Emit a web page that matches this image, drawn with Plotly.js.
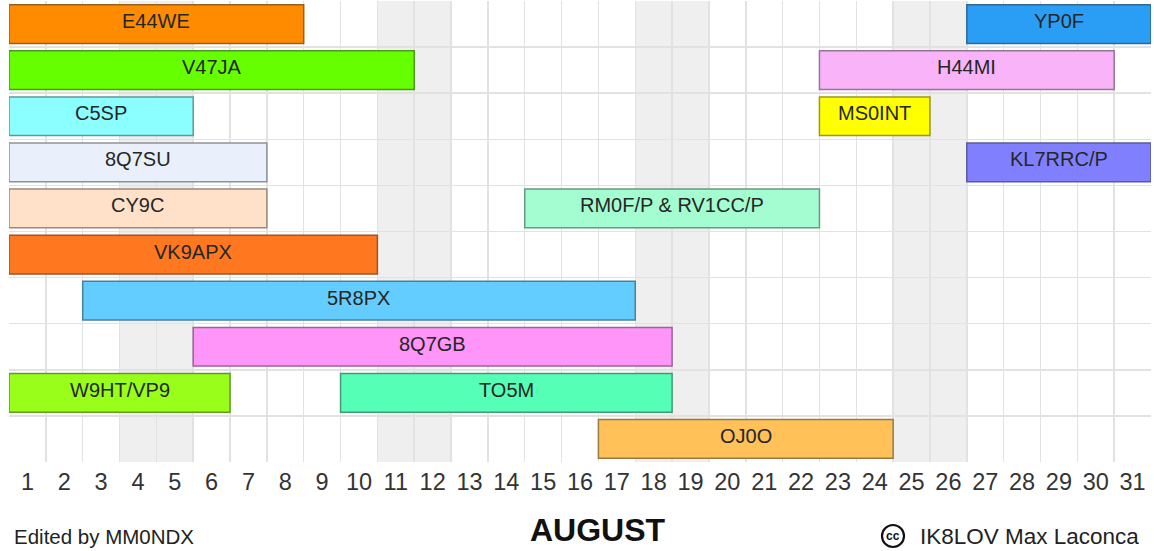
<!DOCTYPE html>
<html>
<head>
<meta charset="utf-8">
<script src="https://cdn.plot.ly/plotly-3.0.1.min.js"></script>
<style>
html,body{margin:0;padding:0;background:#fff;}
#chart{width:1154px;height:551px;}
</style>
</head>
<body>
<div id="chart"></div>
<script>
// ---- data ----
const callsigns = ["E44WE","YP0F","V47JA","H44MI","C5SP","MS0INT","8Q7SU","KL7RRC/P","CY9C","RM0F/P & RV1CC/P","VK9APX","5R8PX","8Q7GB","W9HT/VP9","TO5M","OJ0O"];
const rows      = [0,0,1,1,2,2,3,3,4,4,5,6,7,8,8,9];
const startDays = [1,27,1,23,1,23,1,27,1,15,1,3,6,1,10,17];
const endDays   = [8,31,11,30,5,25,7,31,7,22,10,17,18,6,18,24];
const barColors = ["#FF8C00","#2A9EF5","#66FF00","#F9B4F9","#8BFFFF","#FFFF00","#E9F0FC","#8080FF","#FFE0C9","#A3FDD0","#FF7820","#64CDFF","#FF94F9","#99FF1A","#55FFB5","#FFC158"];
const days = Array.from({length:31},(_,i)=>i+1);
const dayLabels = days.map(String);
const weekendDays = [4,5,11,12,18,19,25,26];
const monthLabel = "AUGUST";
const editorNote = "Edited by MM0NDX";
const authorNote = "IK8LOV Max Laconca";
const nRows = 10;

// ---- helpers ----
function mix(hex, other, t){
  const a=[1,3,5].map(i=>parseInt(hex.substr(i,2),16));
  const b=[1,3,5].map(i=>parseInt(other.substr(i,2),16));
  return 'rgb('+a.map((v,i)=>Math.round(v*(1-t)+b[i]*t)).join(',')+')';
}
const FONT = '"Liberation Sans", Arial, sans-serif';

const trace = {
  type:'bar',
  orientation:'h',
  y: rows,
  base: startDays.map(s=>s-0.5),
  x: startDays.map((s,i)=>endDays[i]-s+1),
  width: rows.map(()=>0.84),
  marker:{color:barColors,line:{color:barColors.map(c=>mix(c,'#333333',0.5)),width:1.5}},
  hoverinfo:'none',
  showlegend:false
};

const shapes = weekendDays.map(d=>({
  type:'rect',xref:'x',yref:'paper',x0:d-0.5,x1:d+0.5,y0:0,y1:1,
  fillcolor:'#efefef',line:{width:0},layer:'below'
}));

// plot area pixel geometry for footer placement
const L=9, R=3, T=1, B=89, W=1154, H=551;
const pw=W-L-R, ph=H-T-B;
const px=x=>(x-L)/pw, py=y=>(H-B-y)/ph;

// cc icon circle
const cx=893, cy=536, cr=11;
shapes.push({type:'circle',xref:'paper',yref:'paper',
  x0:px(cx-cr),x1:px(cx+cr),y0:py(cy+cr),y1:py(cy-cr),
  line:{color:'#111',width:2.2},fillcolor:'rgba(0,0,0,0)',layer:'above'});

// bar labels
const annotations = callsigns.map((c,i)=>({
  xref:'x',yref:'y',x:(startDays[i]+endDays[i])/2,y:rows[i],
  xanchor:'center',yanchor:'middle',yshift:3,showarrow:false,
  text:c,font:{family:FONT,size:20,color:'#262626'}
}));

annotations.push(
  {xref:'paper',yref:'paper',x:px(12),y:py(536),xanchor:'left',yanchor:'middle',showarrow:false,
   text:editorNote,font:{family:FONT,size:20.5,color:'#222'}},
  {xref:'paper',yref:'paper',x:px(598),y:py(530),xanchor:'center',yanchor:'middle',showarrow:false,
   text:'<b>'+monthLabel+'</b>',font:{family:FONT,size:32,color:'#111'}},
  {xref:'paper',yref:'paper',x:px(cx),y:py(cy),xanchor:'center',yanchor:'middle',showarrow:false,
   text:'<b>cc</b>',font:{family:FONT,size:12,color:'#111'}},
  {xref:'paper',yref:'paper',x:px(918),y:py(536),xanchor:'left',yanchor:'middle',showarrow:false,
   text:authorNote,font:{family:FONT,size:22.5,color:'#222'}}
);

const layout = {
  width:W,height:H,
  margin:{l:L,r:R,t:T,b:B,pad:0},
  paper_bgcolor:'#fff',plot_bgcolor:'#fff',
  font:{family:FONT},
  bargap:0,
  xaxis:{range:[0.5,31.5],tickmode:'array',tickvals:days,ticktext:dayLabels,
    showgrid:false,zeroline:false,showline:false,ticks:'',ticklabelstandoff:3,
    tickfont:{family:FONT,size:23.5,color:'#333'},fixedrange:true,
    minor:{tickmode:'array',tickvals:days.map(d=>d-0.5).concat([31.5]),showgrid:true,gridcolor:'#e2e2e2',gridwidth:1.5,ticks:''}},
  yaxis:{range:[nRows-0.5,-0.5],tickmode:'array',
    tickvals:Array.from({length:nRows+1},(_,i)=>i-0.5),showticklabels:false,
    showgrid:true,gridcolor:'#e2e2e2',gridwidth:1.5,zeroline:false,showline:false,ticks:'',fixedrange:true},
  shapes:shapes,
  annotations:annotations
};

Plotly.newPlot('chart',[trace],layout,{displayModeBar:false,staticPlot:true});
</script>
</body>
</html>
